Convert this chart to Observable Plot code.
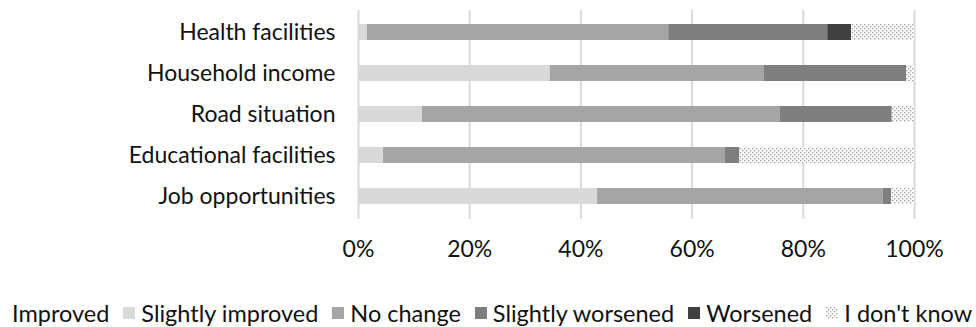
<!DOCTYPE html>
<html>
<head>
<meta charset="utf-8">
<script src="https://cdn.jsdelivr.net/npm/d3@7"></script>
<script src="https://cdn.jsdelivr.net/npm/@observablehq/plot@0.6"></script>
<style>
  html, body { margin: 0; padding: 0; background: #fff; }
  body { width: 976px; height: 327px; overflow: hidden; font-family: Lato, "Liberation Sans", sans-serif; }
  #legend { display: flex; align-items: center; height: 57px; padding-top: 28px; box-sizing: border-box; font-size: 23.5px; color: #111; white-space: nowrap; margin-left: -6px; }
  .item { display: flex; align-items: center; margin-right: 14px; }
  .sw { width: 12px; height: 12px; margin-right: 6px; display: inline-block; }
</style>
</head>
<body>
<div id="chart"></div>
<div id="legend"></div>
<script>
const categories = ["Health facilities", "Household income", "Road situation", "Educational facilities", "Job opportunities"];
const series = ["Improved", "Slightly improved", "No change", "Slightly worsened", "Worsened", "I don't know"];
const improved         = [0, 0, 0, 0, 0];
const slightlyImproved = [1.6, 34.5, 11.5, 4.5, 43.0];
const noChange         = [54.2, 38.5, 64.3, 61.4, 51.4];
const slightlyWorsened = [28.6, 25.6, 20.2, 2.7, 1.5];
const worsened         = [4.3, 0, 0, 0, 0];
const dontKnow         = [11.3, 1.4, 4.0, 31.4, 4.1];
const xTicks = [0, 20, 40, 60, 80, 100];
const colors = ["#ffffff", "#d9d9d9", "#a5a5a5", "#7f7f7f", "#404040", "url(#dots)"];

const valuesBySeries = [improved, slightlyImproved, noChange, slightlyWorsened, worsened, dontKnow];
const data = [];
series.forEach((s, i) => categories.forEach((c, j) => data.push({series: s, category: c, value: valuesBySeries[i][j]})));

const svg = Plot.plot({
  width: 976,
  height: 270,
  marginLeft: 358,
  marginRight: 62,
  marginTop: 10,
  marginBottom: 51,
  style: {fontFamily: "Lato, 'Liberation Sans', sans-serif", fontSize: "23px", color: "#111", background: "#fff", overflow: "visible"},
  x: {domain: [0, 100], ticks: xTicks, tickFormat: d => d + "%", tickSize: 0, tickPadding: 21, label: null},
  y: {domain: categories, paddingInner: 0.6, paddingOuter: 0.3, tickSize: 0, tickPadding: 23, label: null},
  color: {domain: series, range: colors},
  marks: [
    Plot.gridX(xTicks, {stroke: "#d9d9d9", strokeOpacity: 1, strokeWidth: 2}),
    Plot.barX(data, Plot.stackX({x: "value", y: "category", fill: "series", order: null})),
    Plot.axisX({ticks: xTicks, tickFormat: d => d + "%", tickSize: 0, tickPadding: 21, label: null}),
    Plot.axisY({tickSize: 0, tickPadding: 23, label: null})
  ]
});

const defs = d3.select(svg).insert("defs", ":first-child");
const pat = defs.append("pattern").attr("id", "dots").attr("patternUnits", "userSpaceOnUse").attr("width", 4).attr("height", 4);
pat.append("rect").attr("width", 4).attr("height", 4).attr("fill", "#fff");
pat.append("rect").attr("x", 0).attr("y", 0).attr("width", 1.3).attr("height", 1.3).attr("fill", "#9a9a9a");
pat.append("rect").attr("x", 2).attr("y", 2).attr("width", 1.3).attr("height", 1.3).attr("fill", "#9a9a9a");

document.getElementById("chart").appendChild(svg);

const legend = d3.select("#legend");
series.forEach((s, i) => {
  const item = legend.append("div").attr("class", "item");
  const sw = item.append("svg").attr("class", "sw").attr("width", 12).attr("height", 12);
  sw.append("rect").attr("width", 12).attr("height", 12).attr("fill", colors[i]);
  item.append("span").text(s);
});
</script>
</body>
</html>
